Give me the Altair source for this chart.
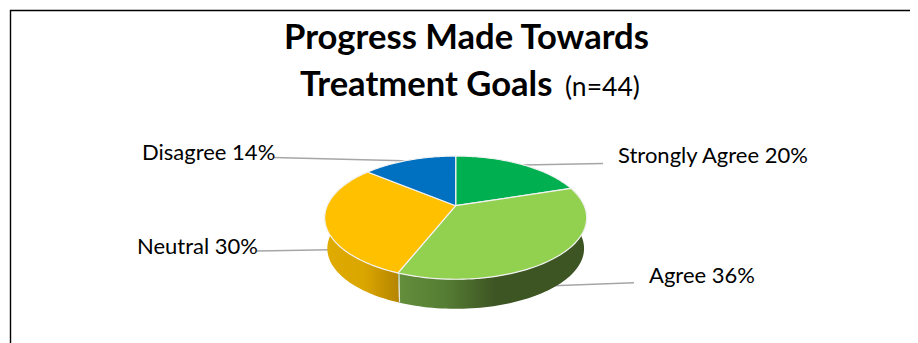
import altair as alt

# ---- chart values ----
names = ["Strongly Agree", "Agree", "Neutral", "Disagree"]
values = [20, 36, 30, 14]
top_colors = ["#00B050", "#92D050", "#FFC000", "#0070C0"]
title_line1 = "Progress Made Towards"
title_line2 = "Treatment Goals"
title_n = "(n=44)"

FONT = "Lato"
W, H = 902, 335
CX, CY = 447.7, 197.7     # pie apex inside the chart
STEPS = 80

x_scale = alt.Scale(domain=[-CX, W - CX], range=[0, W], nice=False, zero=False)
y_scale = alt.Scale(domain=[CY - H, CY], range=[H, 0], nice=False, zero=False)

starts = [sum(values[:i]) for i in range(len(values))]
total = sum(values)


def wedge_rows(i):
    rows = [{"o": -1, "f": 0, "r": 0, "low": 0}]
    rows += [{"o": k, "f": k / STEPS, "r": 1, "low": 0} for k in range(STEPS + 1)]
    rows += [{"o": STEPS + 1, "f": 0, "r": 0, "low": 0}]
    return rows


def side_rows(i):
    rows = [{"o": k, "f": k / STEPS, "r": 1, "low": 0} for k in range(STEPS + 1)]
    rows += [{"o": 2 * STEPS + 1 - k, "f": k / STEPS, "r": 1, "low": 1} for k in range(STEPS + 1)]
    return rows


def shape(rows, i, **mark):
    a, b = starts[i] / total, values[i] / total
    return (
        alt.Chart(alt.Data(values=rows))
        .transform_calculate(a=f"2*PI*({a}+{b}*datum.f)")
        .transform_calculate(u="datum.r*sin(datum.a)", v="datum.r*cos(datum.a)")
        .transform_calculate(
            X="128.5*datum.u/(1+0.194*datum.v)*(1-0.02*datum.low)",
            Y="59.3*datum.v/(1+0.194*datum.v)*(1-0.02*datum.low)-31*datum.low",
        )
        .mark_line(**mark)
        .encode(
            x=alt.X("X:Q", scale=x_scale, axis=None),
            y=alt.Y("Y:Q", scale=y_scale, axis=None),
            order=alt.Order("o:Q"),
        )
    )


def grad(stops):
    return alt.LinearGradient(
        gradient="linear", x1=0, x2=1, y1=0, y2=0,
        stops=[alt.GradientStop(offset=o, color=c) for o, c in stops],
    )


def rule(x1, y1, x2, y2, color="#A6A6A6", width=1.6):
    return (
        alt.Chart(alt.Data(values=[{"a": 0}]))
        .mark_rule(color=color, strokeWidth=width)
        .encode(x=alt.value(x1), x2=alt.value(x2), y=alt.value(y1), y2=alt.value(y2))
    )


def text(label, x, y, size, bold=False, align="left"):
    return (
        alt.Chart(alt.Data(values=[{"t": label}]))
        .mark_text(font=FONT, fontSize=size, fontWeight="bold" if bold else "normal",
                   align=align, baseline="alphabetic", color="#000000")
        .encode(text="t:N", x=alt.value(x), y=alt.value(y))
    )


layers = [
    # frame
    rule(2, 2.5, W, 2.5, "#000000", 1.4),
    rule(2.5, 2, 2.5, H, "#000000", 1.4),
    # leader lines
    rule(265, 149.5, 405, 153),
    rule(515, 157, 595, 155.5),
    rule(249, 243, 322, 241.7),
    rule(545, 277.8, 626, 274.7),
    # visible sides
    shape(side_rows(1), 1, fill=grad([(0, "#648F3C"), (0.25, "#557D33"), (0.52, "#3D5423"), (1, "#3D5423")]),
          stroke=None, strokeWidth=0),
    shape(side_rows(2), 2, fill=grad([(0, "#E0AC00"), (0.55, "#D9A500"), (1, "#B48400")]),
          stroke=None, strokeWidth=0),
]
# top faces
for i, c in enumerate(top_colors):
    layers.append(shape(wedge_rows(i), i, fill=c, stroke="#F2F2F2", strokeWidth=1.2))

# wall between the two visible sides
layers.append(rule(391, 265, 391.5, 294, "#E6E6DC", 1.2))

# titles and labels
layers += [
    text(title_line1, 458.5, 41, 34.6, bold=True, align="center"),
    text(title_line2, 292, 88, 34.6, bold=True),
    text(title_n, 557, 88, 26.5),
]
label_pos = [(610, 155), (641, 275), (129, 246), (134, 152)]
for n, v, (x, y) in zip(names, values, label_pos):
    layers.append(text(f"{n} {v}%", x, y, 22))

chart = (
    alt.layer(*layers)
    .properties(width=W, height=H, padding=0, background="#FFFFFF",
                autosize=alt.AutoSizeParams(type="none"))
    .configure_view(stroke=None)
)
chart.save("out.html", embed_options={"renderer": "svg", "actions": False})
